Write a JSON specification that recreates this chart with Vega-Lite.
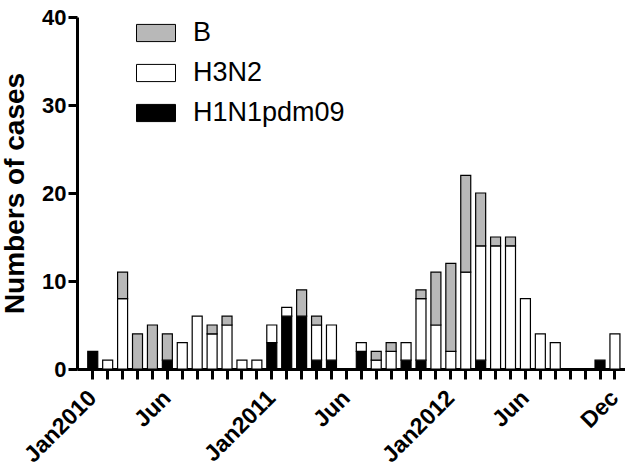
{
  "$schema": "https://vega.github.io/schema/vega-lite/v6.json",
  "width": 548,
  "height": 352,
  "autosize": "none",
  "padding": {"left": 77, "top": 17, "right": 0, "bottom": 107},
  "background": "white",
  "config": {
    "view": {"stroke": null},
    "font": "Liberation Sans",
    "axis": {"domainColor": "black", "tickColor": "black", "labelColor": "black", "titleColor": "black", "grid": false}
  },
  "data": {
    "values": [
      {"month": "2010-01", "type": "H1N1pdm09", "count": 2},
      {"month": "2010-02", "type": "H3N2", "count": 1},
      {"month": "2010-03", "type": "H3N2", "count": 8},
      {"month": "2010-03", "type": "B", "count": 3},
      {"month": "2010-04", "type": "B", "count": 4},
      {"month": "2010-05", "type": "B", "count": 5},
      {"month": "2010-06", "type": "H1N1pdm09", "count": 1},
      {"month": "2010-06", "type": "B", "count": 3},
      {"month": "2010-07", "type": "H3N2", "count": 3},
      {"month": "2010-08", "type": "H3N2", "count": 6},
      {"month": "2010-09", "type": "H3N2", "count": 4},
      {"month": "2010-09", "type": "B", "count": 1},
      {"month": "2010-10", "type": "H3N2", "count": 5},
      {"month": "2010-10", "type": "B", "count": 1},
      {"month": "2010-11", "type": "H3N2", "count": 1},
      {"month": "2010-12", "type": "H3N2", "count": 1},
      {"month": "2011-01", "type": "H1N1pdm09", "count": 3},
      {"month": "2011-01", "type": "H3N2", "count": 2},
      {"month": "2011-02", "type": "H1N1pdm09", "count": 6},
      {"month": "2011-02", "type": "H3N2", "count": 1},
      {"month": "2011-03", "type": "H1N1pdm09", "count": 6},
      {"month": "2011-03", "type": "B", "count": 3},
      {"month": "2011-04", "type": "H1N1pdm09", "count": 1},
      {"month": "2011-04", "type": "H3N2", "count": 4},
      {"month": "2011-04", "type": "B", "count": 1},
      {"month": "2011-05", "type": "H1N1pdm09", "count": 1},
      {"month": "2011-05", "type": "H3N2", "count": 4},
      {"month": "2011-07", "type": "H1N1pdm09", "count": 2},
      {"month": "2011-07", "type": "H3N2", "count": 1},
      {"month": "2011-08", "type": "H3N2", "count": 1},
      {"month": "2011-08", "type": "B", "count": 1},
      {"month": "2011-09", "type": "H3N2", "count": 2},
      {"month": "2011-09", "type": "B", "count": 1},
      {"month": "2011-10", "type": "H1N1pdm09", "count": 1},
      {"month": "2011-10", "type": "H3N2", "count": 2},
      {"month": "2011-11", "type": "H1N1pdm09", "count": 1},
      {"month": "2011-11", "type": "H3N2", "count": 7},
      {"month": "2011-11", "type": "B", "count": 1},
      {"month": "2011-12", "type": "H3N2", "count": 5},
      {"month": "2011-12", "type": "B", "count": 6},
      {"month": "2012-01", "type": "H3N2", "count": 2},
      {"month": "2012-01", "type": "B", "count": 10},
      {"month": "2012-02", "type": "H3N2", "count": 11},
      {"month": "2012-02", "type": "B", "count": 11},
      {"month": "2012-03", "type": "H1N1pdm09", "count": 1},
      {"month": "2012-03", "type": "H3N2", "count": 13},
      {"month": "2012-03", "type": "B", "count": 6},
      {"month": "2012-04", "type": "H3N2", "count": 14},
      {"month": "2012-04", "type": "B", "count": 1},
      {"month": "2012-05", "type": "H3N2", "count": 14},
      {"month": "2012-05", "type": "B", "count": 1},
      {"month": "2012-06", "type": "H3N2", "count": 8},
      {"month": "2012-07", "type": "H3N2", "count": 4},
      {"month": "2012-08", "type": "H3N2", "count": 3},
      {"month": "2012-11", "type": "H1N1pdm09", "count": 1},
      {"month": "2012-12", "type": "H3N2", "count": 4}
    ]
  },
  "transform": [
    {"calculate": "indexof(['H1N1pdm09','H3N2','B'], datum.type)", "as": "ord"}
  ],
  "mark": {"type": "bar", "stroke": "black", "strokeWidth": 1.2},
  "encoding": {
    "x": {
      "field": "month",
      "type": "ordinal",
      "scale": {
        "domain": ["2010-01","2010-02","2010-03","2010-04","2010-05","2010-06","2010-07","2010-08","2010-09","2010-10","2010-11","2010-12",
                   "2011-01","2011-02","2011-03","2011-04","2011-05","2011-06","2011-07","2011-08","2011-09","2011-10","2011-11","2011-12",
                   "2012-01","2012-02","2012-03","2012-04","2012-05","2012-06","2012-07","2012-08","2012-09","2012-10","2012-11","2012-12"],
        "paddingInner": 0.33,
        "paddingOuter": 0.53,
        "align": 0.68
      },
      "axis": {
        "title": null,
        "domainWidth": 3,
        "tickWidth": 3,
        "tickSize": 10,
        "labelAngle": -45,
        "labelAlign": "right",
        "labelBaseline": "middle",
        "labelPadding": 15,
        "labelFontSize": 23,
        "labelFontWeight": "bold",
        "labelOverlap": false,
        "labelExpr": "datum.value == '2010-01' ? 'Jan2010' : datum.value == '2010-06' ? 'Jun' : datum.value == '2011-01' ? 'Jan2011' : datum.value == '2011-06' ? 'Jun' : datum.value == '2012-01' ? 'Jan2012' : datum.value == '2012-06' ? 'Jun' : datum.value == '2012-12' ? 'Dec' : ''"
      }
    },
    "y": {
      "field": "count",
      "type": "quantitative",
      "stack": "zero",
      "scale": {"domain": [0, 40], "nice": false},
      "axis": {
        "title": "Numbers of cases",
        "values": [0, 10, 20, 30, 40],
        "domainWidth": 3,
        "tickWidth": 3,
        "tickSize": 9,
        "labelPadding": 2,
        "labelFontSize": 22,
        "labelFontWeight": "bold",
        "titleFontSize": 28,
        "titleFontWeight": "bold",
        "titlePadding": 12
      }
    },
    "fill": {
      "field": "type",
      "type": "nominal",
      "scale": {"domain": ["B", "H3N2", "H1N1pdm09"], "range": ["#b8b8b8", "white", "black"]},
      "legend": {
        "title": null,
        "orient": "none",
        "legendX": 59,
        "legendY": -4,
        "padding": 0,
        "symbolType": "M-1,-0.44L1,-0.44L1,0.44L-1,0.44Z",
        "symbolSize": 1521,
        "symbolStrokeColor": "black",
        "symbolStrokeWidth": 1,
        "labelFontSize": 27,
        "labelFont": "Liberation Sans",
        "labelColor": "black",
        "labelOffset": 17,
        "rowPadding": 7
      }
    },
    "order": {"field": "ord", "type": "quantitative"}
  }
}
